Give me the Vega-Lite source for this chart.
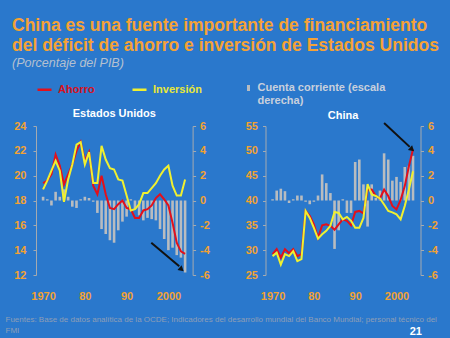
{
  "$schema": "https://vega.github.io/schema/vega-lite/v6.json",
  "background": "#2a78cc",
  "padding": {"left": 5, "top": 17, "right": 30, "bottom": 30},
  "bounds": "flush",
  "spacing": 72.5,
  "title": {
    "text": ["China es una fuente importante de financiamiento", "del déficit de ahorro e inversión de Estados Unidos"],
    "subtitle": "(Porcentaje del PIB)",
    "anchor": "start",
    "frame": "group",
    "dx": -24,
    "offset": 12,
    "font": "Liberation Sans",
    "color": "#f5a235",
    "fontSize": 17.5,
    "fontWeight": "bold",
    "lineHeight": 20,
    "subtitleFont": "Liberation Sans",
    "subtitleColor": "#b4c0d0",
    "subtitleFontSize": 12.5,
    "subtitleFontStyle": "italic",
    "subtitleFontWeight": "normal",
    "subtitlePadding": 2
  },
  "config": {
    "font": "Liberation Sans",
    "view": {"stroke": null},
    "axis": {
      "labelFont": "Liberation Sans",
      "labelFontWeight": "bold",
      "labelFontSize": 11,
      "labelColor": "#f2a232",
      "domainColor": "#a4aab0",
      "tickColor": "#a4aab0",
      "grid": false,
      "tickSize": 3,
      "titleFont": "Liberation Sans"
    },
    "legend": {
      "labelFont": "Liberation Sans",
      "labelFontWeight": "bold",
      "labelFontSize": 11
    }
  },
  "datasets": {
    "us": [
      {"year": 1970, "Ahorro": 19.4, "Inversión": 18.9, "cc": 0.3},
      {"year": 1971, "Ahorro": 19.6, "Inversión": 19.6, "cc": 0.1},
      {"year": 1972, "Ahorro": 20.1, "Inversión": 20.4, "cc": -0.4},
      {"year": 1973, "Ahorro": 21.7, "Inversión": 21.2, "cc": 0.7},
      {"year": 1974, "Ahorro": 20.8, "Inversión": 20.4, "cc": 0.3},
      {"year": 1975, "Ahorro": 19.3, "Inversión": 17.9, "cc": 0.9},
      {"year": 1976, "Ahorro": 20.1, "Inversión": 19.7, "cc": 0.3},
      {"year": 1977, "Ahorro": 20.9, "Inversión": 20.9, "cc": -0.5},
      {"year": 1978, "Ahorro": 22.0, "Inversión": 22.5, "cc": -0.6},
      {"year": 1979, "Ahorro": 22.7, "Inversión": 22.7, "cc": 0.1},
      {"year": 1980, "Ahorro": 21.2, "Inversión": 20.9, "cc": 0.3},
      {"year": 1981, "Ahorro": 21.9, "Inversión": 21.9, "cc": 0.2},
      {"year": 1982, "Ahorro": 19.2, "Inversión": 19.4, "cc": -0.1},
      {"year": 1983, "Ahorro": 18.5, "Inversión": 19.4, "cc": -1.0},
      {"year": 1984, "Ahorro": 20.0, "Inversión": 22.4, "cc": -2.3},
      {"year": 1985, "Ahorro": 18.5, "Inversión": 21.3, "cc": -2.7},
      {"year": 1986, "Ahorro": 17.4, "Inversión": 20.6, "cc": -3.2},
      {"year": 1987, "Ahorro": 17.3, "Inversión": 20.5, "cc": -3.4},
      {"year": 1988, "Ahorro": 17.7, "Inversión": 19.7, "cc": -2.4},
      {"year": 1989, "Ahorro": 18.0, "Inversión": 19.6, "cc": -1.7},
      {"year": 1990, "Ahorro": 17.4, "Inversión": 18.4, "cc": -1.3},
      {"year": 1991, "Ahorro": 17.3, "Inversión": 17.2, "cc": 0.1},
      {"year": 1992, "Ahorro": 16.6, "Inversión": 17.3, "cc": -0.7},
      {"year": 1993, "Ahorro": 16.6, "Inversión": 17.7, "cc": -1.2},
      {"year": 1994, "Ahorro": 17.2, "Inversión": 18.6, "cc": -1.6},
      {"year": 1995, "Ahorro": 17.3, "Inversión": 18.6, "cc": -1.4},
      {"year": 1996, "Ahorro": 17.6, "Inversión": 19.0, "cc": -1.5},
      {"year": 1997, "Ahorro": 18.2, "Inversión": 19.4, "cc": -1.6},
      {"year": 1998, "Ahorro": 18.5, "Inversión": 20.0, "cc": -2.3},
      {"year": 1999, "Ahorro": 18.1, "Inversión": 20.5, "cc": -3.1},
      {"year": 2000, "Ahorro": 17.6, "Inversión": 20.8, "cc": -4.0},
      {"year": 2001, "Ahorro": 16.2, "Inversión": 19.2, "cc": -3.8},
      {"year": 2002, "Ahorro": 14.6, "Inversión": 18.4, "cc": -4.4},
      {"year": 2003, "Ahorro": 13.9, "Inversión": 18.4, "cc": -4.6},
      {"year": 2004, "Ahorro": 13.7, "Inversión": 19.7, "cc": -5.8}
    ],
    "cn": [
      {"year": 1970, "Ahorro": 29.2, "Inversión": 28.8, "cc": 0.1},
      {"year": 1971, "Ahorro": 30.2, "Inversión": 29.5, "cc": 0.8},
      {"year": 1972, "Ahorro": 28.5, "Inversión": 27.1, "cc": 0.95},
      {"year": 1973, "Ahorro": 30.2, "Inversión": 29.2, "cc": 0.75},
      {"year": 1974, "Ahorro": 29.4, "Inversión": 28.8, "cc": -0.2},
      {"year": 1975, "Ahorro": 30.2, "Inversión": 29.8, "cc": 0.1},
      {"year": 1976, "Ahorro": 28.8, "Inversión": 27.8, "cc": 0.4},
      {"year": 1977, "Ahorro": 29.2, "Inversión": 28.2, "cc": 0.4},
      {"year": 1978, "Ahorro": 37.9, "Inversión": 37.9, "cc": -0.1},
      {"year": 1979, "Ahorro": 36.9, "Inversión": 36.5, "cc": -0.3},
      {"year": 1980, "Ahorro": 35.2, "Inversión": 34.5, "cc": -0.1},
      {"year": 1981, "Ahorro": 32.5, "Inversión": 32.3, "cc": 0.4},
      {"year": 1982, "Ahorro": 35.0, "Inversión": 33.2, "cc": 2.1},
      {"year": 1983, "Ahorro": 35.2, "Inversión": 33.9, "cc": 1.4},
      {"year": 1984, "Ahorro": 34.9, "Inversión": 34.9, "cc": 0.6},
      {"year": 1985, "Ahorro": 34.1, "Inversión": 37.7, "cc": -3.9},
      {"year": 1986, "Ahorro": 35.2, "Inversión": 37.5, "cc": -2.4},
      {"year": 1987, "Ahorro": 36.2, "Inversión": 36.2, "cc": 0.1},
      {"year": 1988, "Ahorro": 35.9, "Inversión": 36.7, "cc": -1.0},
      {"year": 1989, "Ahorro": 35.0, "Inversión": 35.9, "cc": -1.0},
      {"year": 1990, "Ahorro": 37.7, "Inversión": 34.5, "cc": 3.1},
      {"year": 1991, "Ahorro": 37.9, "Inversión": 34.5, "cc": 3.3},
      {"year": 1992, "Ahorro": 37.4, "Inversión": 36.5, "cc": 1.3},
      {"year": 1993, "Ahorro": 42.2, "Inversión": 43.3, "cc": -2.1},
      {"year": 1994, "Ahorro": 42.2, "Inversión": 41.2, "cc": 1.3},
      {"year": 1995, "Ahorro": 40.9, "Inversión": 40.9, "cc": 0.2},
      {"year": 1996, "Ahorro": 40.4, "Inversión": 40.4, "cc": 0.8},
      {"year": 1997, "Ahorro": 42.2, "Inversión": 39.2, "cc": 3.8},
      {"year": 1998, "Ahorro": 40.9, "Inversión": 37.9, "cc": 3.3},
      {"year": 1999, "Ahorro": 38.9, "Inversión": 37.6, "cc": 1.6},
      {"year": 2000, "Ahorro": 38.2, "Inversión": 37.2, "cc": 1.9},
      {"year": 2001, "Ahorro": 40.1, "Inversión": 36.2, "cc": 1.5},
      {"year": 2002, "Ahorro": 42.9, "Inversión": 38.9, "cc": 2.7},
      {"year": 2003, "Ahorro": 46.9, "Inversión": 42.2, "cc": 2.8},
      {"year": 2004, "Ahorro": 50.3, "Inversión": 45.9, "cc": 3.6}
    ]
  },
  "hconcat": [
    {
      "width": 156.6,
      "height": 149,
      "title": {"text": "Estados Unidos", "color": "#ffffff", "fontSize": 11, "fontWeight": "bold", "offset": 1, "anchor": "middle", "font": "Liberation Sans"},
      "data": {"name": "us"},
      "encoding": {
        "x": {
          "field": "year", "type": "quantitative",
          "scale": {"domain": [1969.5, 2004.6], "nice": false, "zero": false},
          "axis": {
            "values": [1970, 1980, 1990, 2000], "format": "d",
            "labelExpr": "datum.value == 1980 ? '80' : datum.value == 1990 ? '90' : datum.label",
            "domain": false, "ticks": false, "tickSize": 0, "labelPadding": 15,
            "title": ["Fuentes: Base de datos analítica de la OCDE; Indicadores del desarrollo mundial del Banco Mundial; personal técnico del", "FMI"],
            "titleX": -31, "titleY": 46, "titleAlign": "left", "titleAnchor": "start", "titleBaseline": "alphabetic",
            "titleFontSize": 8, "titleFontWeight": "normal", "titleColor": "#8e9eb6", "titleLineHeight": 11, "titleLimit": 1000
          }
        }
      },
      "layer": [
        {
          "mark": {"type": "bar", "size": 2.6},
          "encoding": {
            "y": {"field": "cc", "type": "quantitative", "scale": {"domain": [-6, 6], "nice": false},
                  "axis": {"orient": "right", "values": [-6, -4, -2, 0, 2, 4, 6], "title": null, "labelPadding": 4,
                           "labelExpr": "datum.value < 0 ? '-' + abs(datum.value) : '' + datum.value"}},
            "fill": {"datum": "Cuenta corriente", "type": "nominal", "scale": {"domain": ["Cuenta corriente"], "range": ["#b8bcc0"]},
                     "legend": {"orient": "none", "legendX": 206.5, "legendY": -44, "title": null,
                                "symbolType": "M-0.25,-0.5H0.25V0.5H-0.25Z", "symbolSize": 144, "symbolStrokeWidth": 0,
                                "labelExpr": "['Cuenta corriente (escala', 'derecha)']", "labelColor": "#c8d0dc", "labelOffset": 3, "labelLimit": 300}}
          }
        },
        {
          "transform": [{"fold": ["Ahorro", "Inversión"], "as": ["serie", "valor"]}],
          "mark": {"type": "line", "strokeWidth": 2},
          "encoding": {
            "y": {"field": "valor", "type": "quantitative", "scale": {"domain": [12, 24], "nice": false, "zero": false},
                  "axis": {"orient": "left", "values": [12, 14, 16, 18, 20, 22, 24], "title": null, "labelPadding": 7}},
            "stroke": {"field": "serie", "type": "nominal", "scale": {"domain": ["Ahorro", "Inversión"], "range": ["#e3101b", "#f0f030"]},
                       "legend": {"orient": "none", "legendX": 0, "legendY": -45, "title": null, "direction": "horizontal", "columns": 2,
                                  "symbolType": "stroke", "symbolSize": 196, "symbolStrokeWidth": 2.5, "labelOffset": 5, "columnPadding": 32,
                                  "labelColor": {"expr": "datum.value == 'Ahorro' ? '#d8121e' : '#e8e838'"}}}
          }
        },
        {
          "data": {"values": [{"year": 1995.9, "year2": 2002.6, "v": 14.6, "v2": 12.7}]},
          "mark": {"type": "rule", "color": "#111111", "strokeWidth": 2},
          "encoding": {
            "x2": {"field": "year2"},
            "y": {"field": "v", "type": "quantitative", "scale": {"domain": [12, 24], "nice": false, "zero": false}, "axis": null},
            "y2": {"field": "v2"}
          }
        },
        {
          "data": {"values": [{"year": 2003.0, "v": 12.5}]},
          "mark": {"type": "point", "shape": "triangle", "filled": true, "color": "#111111", "size": 40, "angle": 130, "opacity": 1},
          "encoding": {
            "y": {"field": "v", "type": "quantitative", "scale": {"domain": [12, 24], "nice": false, "zero": false}, "axis": null}
          }
        }
      ],
      "resolve": {"scale": {"y": "independent"}}
    },
    {
      "width": 155,
      "height": 149,
      "title": {"text": "China", "color": "#ffffff", "fontSize": 11, "fontWeight": "bold", "offset": -1, "anchor": "middle", "font": "Liberation Sans"},
      "data": {"name": "cn"},
      "encoding": {
        "x": {
          "field": "year", "type": "quantitative",
          "scale": {"domain": [1969.5, 2004.6], "nice": false, "zero": false},
          "axis": {
            "values": [1970, 1980, 1990, 2000], "format": "d",
            "labelExpr": "datum.value == 1980 ? '80' : datum.value == 1990 ? '90' : datum.label",
            "domain": false, "ticks": false, "tickSize": 0, "labelPadding": 15,
            "title": "21",
            "titleX": 156, "titleY": 59, "titleAlign": "right", "titleAnchor": "end", "titleBaseline": "alphabetic",
            "titleFontSize": 11, "titleFontWeight": "bold", "titleColor": "#ffffff"
          }
        }
      },
      "layer": [
        {
          "mark": {"type": "bar", "size": 2.6},
          "encoding": {
            "y": {"field": "cc", "type": "quantitative", "scale": {"domain": [-6, 6], "nice": false},
                  "axis": {"orient": "right", "values": [-6, -4, -2, 0, 2, 4, 6], "title": null, "labelPadding": 4,
                           "labelExpr": "datum.value < 0 ? '-' + abs(datum.value) : '' + datum.value"}},
            "fill": {"datum": "Cuenta corriente", "type": "nominal", "scale": {"domain": ["Cuenta corriente"], "range": ["#b8bcc0"]}}
          }
        },
        {
          "transform": [{"fold": ["Ahorro", "Inversión"], "as": ["serie", "valor"]}],
          "mark": {"type": "line", "strokeWidth": 2},
          "encoding": {
            "y": {"field": "valor", "type": "quantitative", "scale": {"domain": [25, 55], "nice": false, "zero": false},
                  "axis": {"orient": "left", "values": [25, 30, 35, 40, 45, 50, 55], "title": null, "labelPadding": 5}},
            "stroke": {"field": "serie", "type": "nominal", "scale": {"domain": ["Ahorro", "Inversión"], "range": ["#e3101b", "#f0f030"]}}
          }
        },
        {
          "data": {"values": [{"year": 1997.0, "year2": 2003.2, "v": 55.6, "v2": 50.8}]},
          "mark": {"type": "rule", "color": "#111111", "strokeWidth": 2},
          "encoding": {
            "x2": {"field": "year2"},
            "y": {"field": "v", "type": "quantitative", "scale": {"domain": [25, 55], "nice": false, "zero": false}, "axis": null},
            "y2": {"field": "v2"}
          }
        },
        {
          "data": {"values": [{"year": 2003.6, "v": 50.4}]},
          "mark": {"type": "point", "shape": "triangle", "filled": true, "color": "#111111", "size": 40, "angle": 132, "opacity": 1},
          "encoding": {
            "y": {"field": "v", "type": "quantitative", "scale": {"domain": [25, 55], "nice": false, "zero": false}, "axis": null}
          }
        }
      ],
      "resolve": {"scale": {"y": "independent"}}
    }
  ],
  "resolve": {"scale": {"x": "independent", "y": "independent", "stroke": "shared", "fill": "shared"}}
}
